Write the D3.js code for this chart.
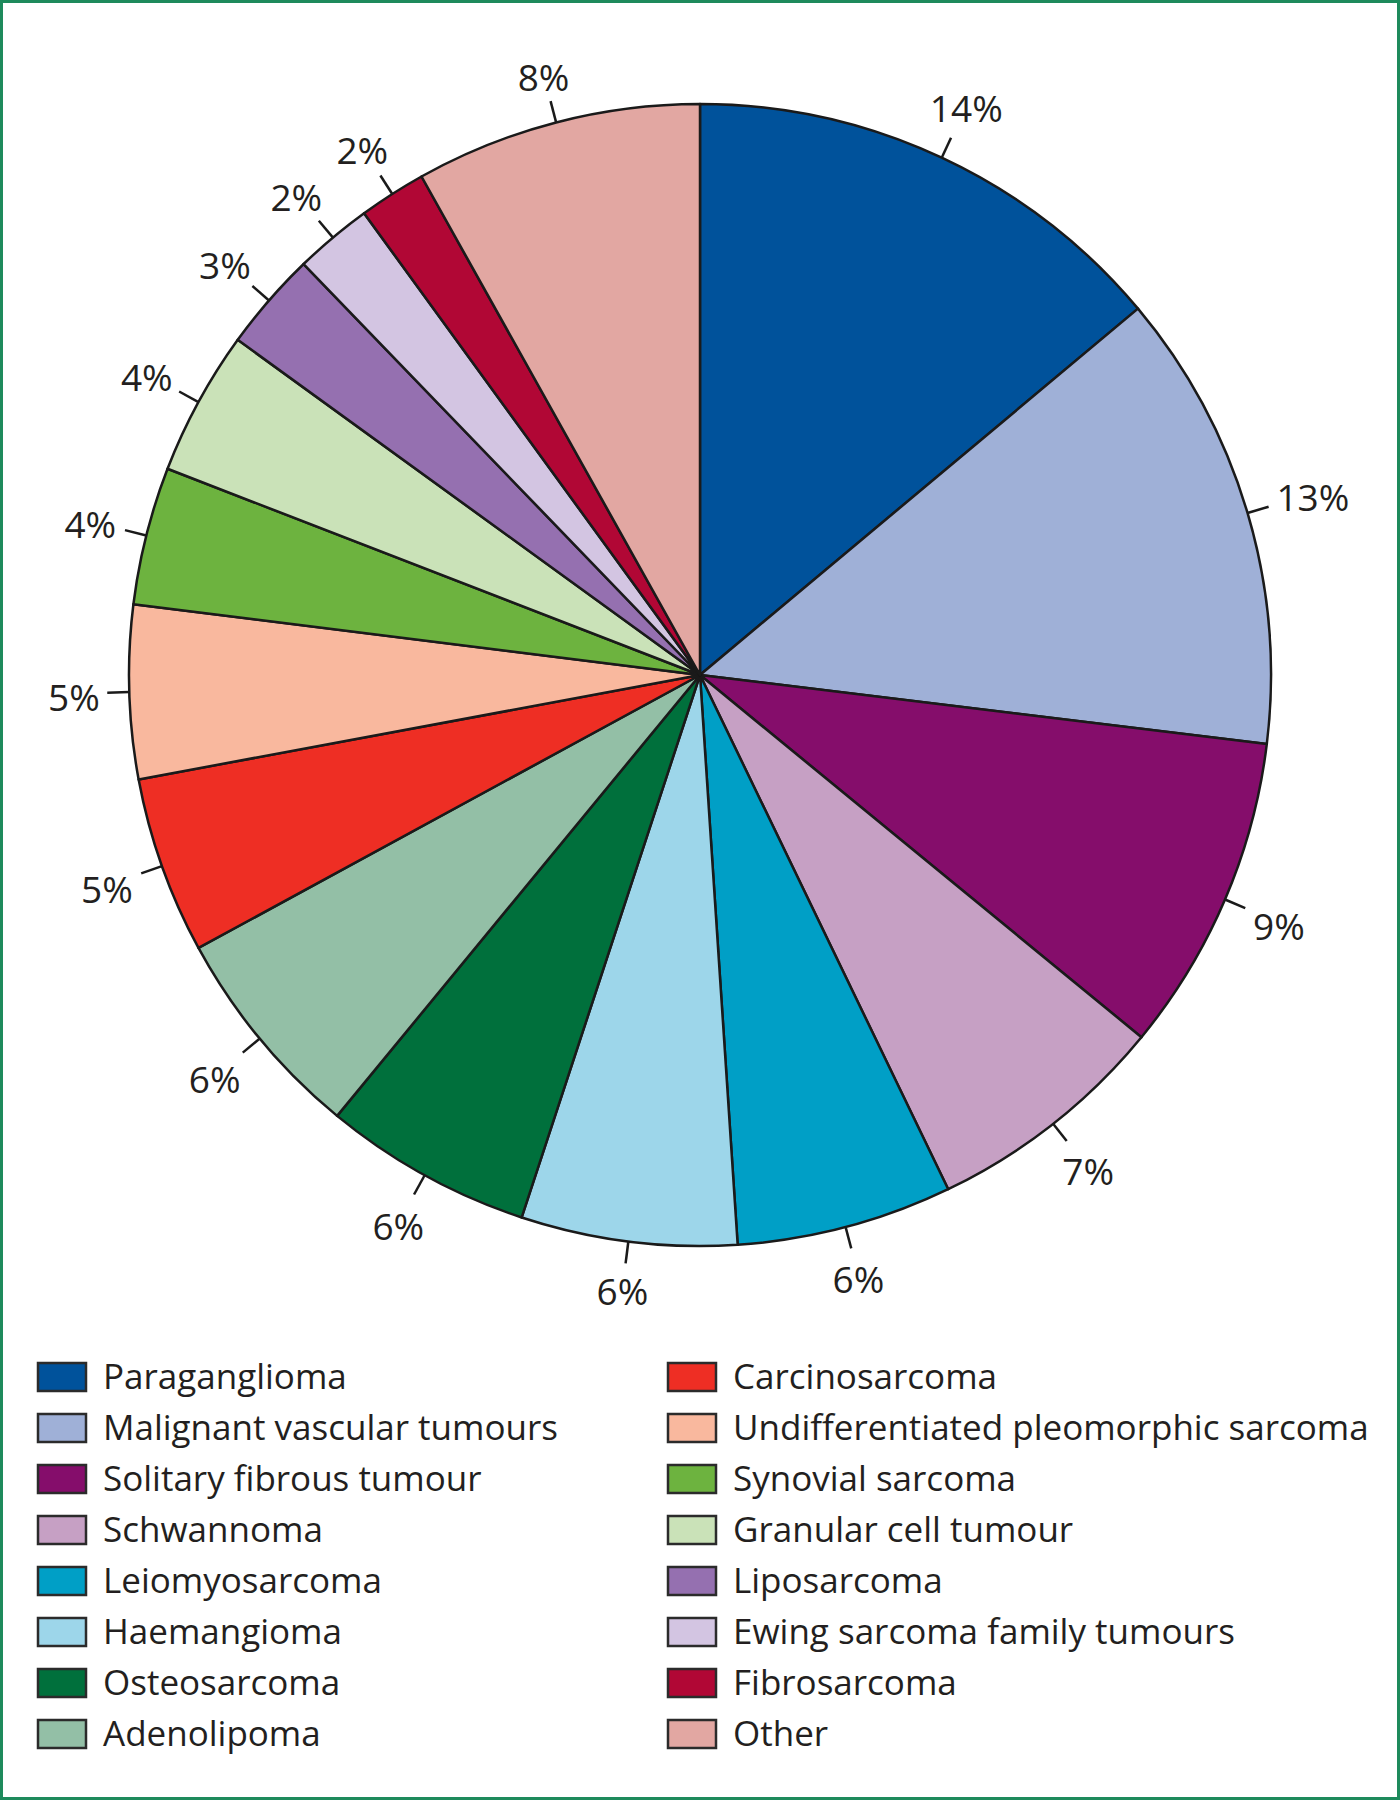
<!DOCTYPE html>
<html>
<head>
<meta charset="utf-8">
<script src="https://cdn.jsdelivr.net/npm/d3@7"></script>
<style>
  html, body { margin: 0; padding: 0; background: #fff; }
  svg { display: block; }
  text { font-family: "Open Sans", Lato, sans-serif; fill: #231f20; }
</style>
</head>
<body>
<div id="chart"></div>
<script>
// tumour types, in slice order (clockwise from 12 o'clock)
const categories = [
  "Paraganglioma", "Malignant vascular tumours", "Solitary fibrous tumour", "Schwannoma",
  "Leiomyosarcoma", "Haemangioma", "Osteosarcoma", "Adenolipoma",
  "Carcinosarcoma", "Undifferentiated pleomorphic sarcoma", "Synovial sarcoma", "Granular cell tumour",
  "Liposarcoma", "Ewing sarcoma family tumours", "Fibrosarcoma", "Other"
];
// share of cases (%)
const shares = [13.9, 13.0, 9.0, 6.9, 6.1, 6.1, 5.9, 6.1, 5.0, 4.9, 3.9, 4.1, 2.8, 2.2, 1.9, 8.1];
// printed labels
const labels = ["14%", "13%", "9%", "7%", "6%", "6%", "6%", "6%", "5%", "5%", "4%", "4%", "3%", "2%", "2%", "8%"];
const colours = [
  "#00529b", "#9fb0d7", "#850d6b", "#c6a0c4",
  "#009fc6", "#9dd6ea", "#00703c", "#93bfa6",
  "#ee2e24", "#f9b89e", "#6db33f", "#cae2b8",
  "#9570b0", "#d3c5e2", "#b10735", "#e2a7a2"
];

const W = 1400, H = 1800;
const cx = 700, cy = 675, R = 571;

const svg = d3.select("#chart").append("svg")
  .attr("width", W)
  .attr("height", H);

// green frame
svg.append("rect")
  .attr("x", 1.5).attr("y", 1.5)
  .attr("width", W - 3).attr("height", H - 3)
  .attr("fill", "none")
  .attr("stroke", "#1e8a5c")
  .attr("stroke-width", 3);

const g = svg.append("g").attr("transform", `translate(${cx},${cy})`);

const pie = d3.pie().sort(null).value(d => d);
const arcs = pie(shares);
const arc = d3.arc().innerRadius(0).outerRadius(R);

g.selectAll("path.slice")
  .data(arcs)
  .enter().append("path")
  .attr("class", "slice")
  .attr("d", arc)
  .attr("fill", (d, i) => colours[i])
  .attr("stroke", "#1a1a1a")
  .attr("stroke-width", 2.5)
  .attr("stroke-linejoin", "round");

// ticks + labels
const tickLen = 22;
const fontSize = 37;
const midAngle = d => (d.startAngle + d.endAngle) / 2;

const lab = g.selectAll("g.lab")
  .data(arcs)
  .enter().append("g")
  .attr("class", "lab");

lab.append("line")
  .attr("x1", d => Math.sin(midAngle(d)) * R)
  .attr("y1", d => -Math.cos(midAngle(d)) * R)
  .attr("x2", d => Math.sin(midAngle(d)) * (R + tickLen))
  .attr("y2", d => -Math.cos(midAngle(d)) * (R + tickLen))
  .attr("stroke", "#1a1a1a")
  .attr("stroke-width", 2.5);

lab.append("text")
  .attr("text-anchor", "middle")
  .attr("dy", "0.35em")
  .style("font-size", fontSize + "px")
  .text((d, i) => labels[i])
  .each(function(d) {
    const a = midAngle(d);
    const ux = Math.sin(a), uy = -Math.cos(a);
    const hw = this.getComputedTextLength() / 2;
    const hh = 15;
    const off = R + tickLen + 7 + hw * Math.abs(ux) + hh * Math.abs(uy);
    d3.select(this).attr("x", ux * off).attr("y", uy * off + 4);
  });

// legend, two columns of eight
const legend = svg.append("g").attr("class", "legend");
const rowH = 51, legendTop = 1377;
const colX = [38, 668];

const item = legend.selectAll("g.item")
  .data(categories)
  .enter().append("g")
  .attr("class", "item")
  .attr("transform", (d, i) => `translate(${colX[Math.floor(i / 8)]},${legendTop + (i % 8) * rowH})`);

item.append("rect")
  .attr("x", 0).attr("y", -14)
  .attr("width", 48).attr("height", 28)
  .attr("fill", (d, i) => colours[i])
  .attr("stroke", "#2b2b2b")
  .attr("stroke-width", 2.5);

item.append("text")
  .attr("x", 65)
  .attr("dy", "0.35em")
  .style("font-size", "35px")
  .text(d => d);
</script>
</body>
</html>
